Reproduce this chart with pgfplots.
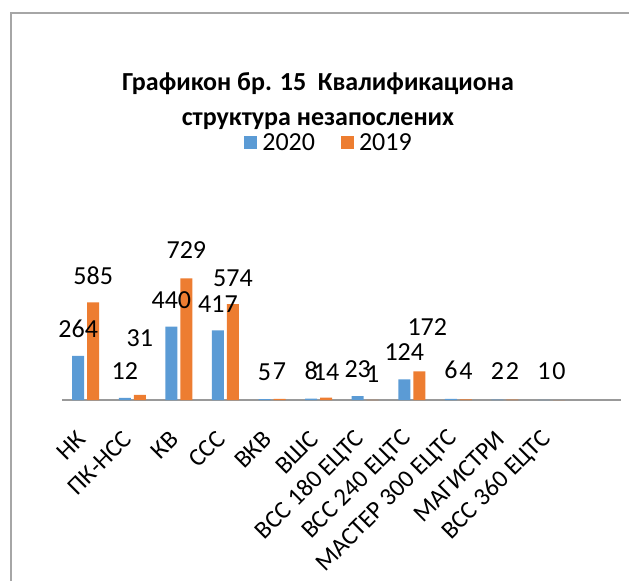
\documentclass[border=0pt]{standalone}
\usepackage{fontspec}
\setmainfont{Carlito}
\usepackage{pgfplots}
\pgfplotsset{compat=1.18}
\definecolor{c2020}{HTML}{5B9BD5}
\definecolor{c2019}{HTML}{ED7D31}
\definecolor{framegray}{HTML}{A6A6A6}
\definecolor{axisgray}{HTML}{999999}
\begin{document}
\begin{tikzpicture}
\useasboundingbox (0pt,0pt) rectangle (629pt,581pt);
\draw[framegray, line width=1.6pt] (11pt,0pt) -- (11pt,568pt) -- (629pt,568pt);
\node[font=\fontsize{26}{35}\selectfont\bfseries, align=center] at (318pt,480pt)
  {Графикон бр. 15\ \ Квалификациона\\структура незапослених};
\begin{axis}[
  at={(62.4pt,181pt)}, anchor=south west,
  width=559pt, height=217pt, scale only axis,
  xmin=-0.5, xmax=11.5, ymin=0, ymax=1300,
  enlargelimits=false, clip=false,
  ybar=3pt, bar width=12pt,
  axis x line*=bottom, hide y axis,
  x axis line style={draw=axisgray, line width=1.2pt, -},
  xtick={0,...,11},
  xticklabels={НК,ПК-НСС,КВ,ССС,ВКВ,ВШС,ВСС 180 ЕЦТС,ВСС 240 ЕЦТС,МАСТЕР 300 ЕЦТС,МАГИСТРИ,ВСС 360 ЕЦТС,{}},
  xtick style={draw=none}, major tick length=0pt,
  xticklabel style={font=\fontsize{25}{30}\selectfont, inner sep=0pt,
    xshift=-4.5pt, yshift=-35pt, rotate=45, anchor=east},
  /pgf/number format/assume math mode=true,
  visualization depends on={value \thisrow{dx} \as \dx},
  visualization depends on={value \thisrow{dy} \as \dy},
  nodes near coords,
  every node near coord/.append style={font=\fontsize{26}{31}\selectfont,
    anchor=base, inner sep=0pt, xshift=\dx pt, yshift=\dy pt},
  legend style={at={(0.477,1.184)}, anchor=center, draw=none, fill=none,
    font=\fontsize{26}{31}\selectfont, legend columns=2,
    /tikz/every even column/.append style={column sep=24pt}},
]
\addplot[fill=c2020, draw=none,
  legend image code/.code={\fill[c2020] (0pt,-6pt) rectangle (13pt,7pt); \path (16pt,0pt);}]
  table[x=x, y=y] {
x  y   dx dy
0  264 0  18
1  12  0  18
2  440 0  18
3  417 0  18
4  5   0  19
5  8   0  19
6  23  0  19
7  124 0  19
8  6   0  20
9  2   0  20
10 1   0  20
};
\addplot[fill=c2019, draw=none,
  legend image code/.code={\fill[c2019] (0pt,-6pt) rectangle (13pt,7pt); \path (16pt,0pt);}]
  table[x=x, y=y] {
x  y   dx dy
0  585 0  18
1  31  0  48
2  729 0  20
3  574 0  18
4  7   0  19
5  14  0  17
6  1   0  17
7  172 8  36
8  4   0  20
9  2   0  20
10 0   0  20
};
\legend{2020,2019}
\end{axis}
\end{tikzpicture}
\end{document}
